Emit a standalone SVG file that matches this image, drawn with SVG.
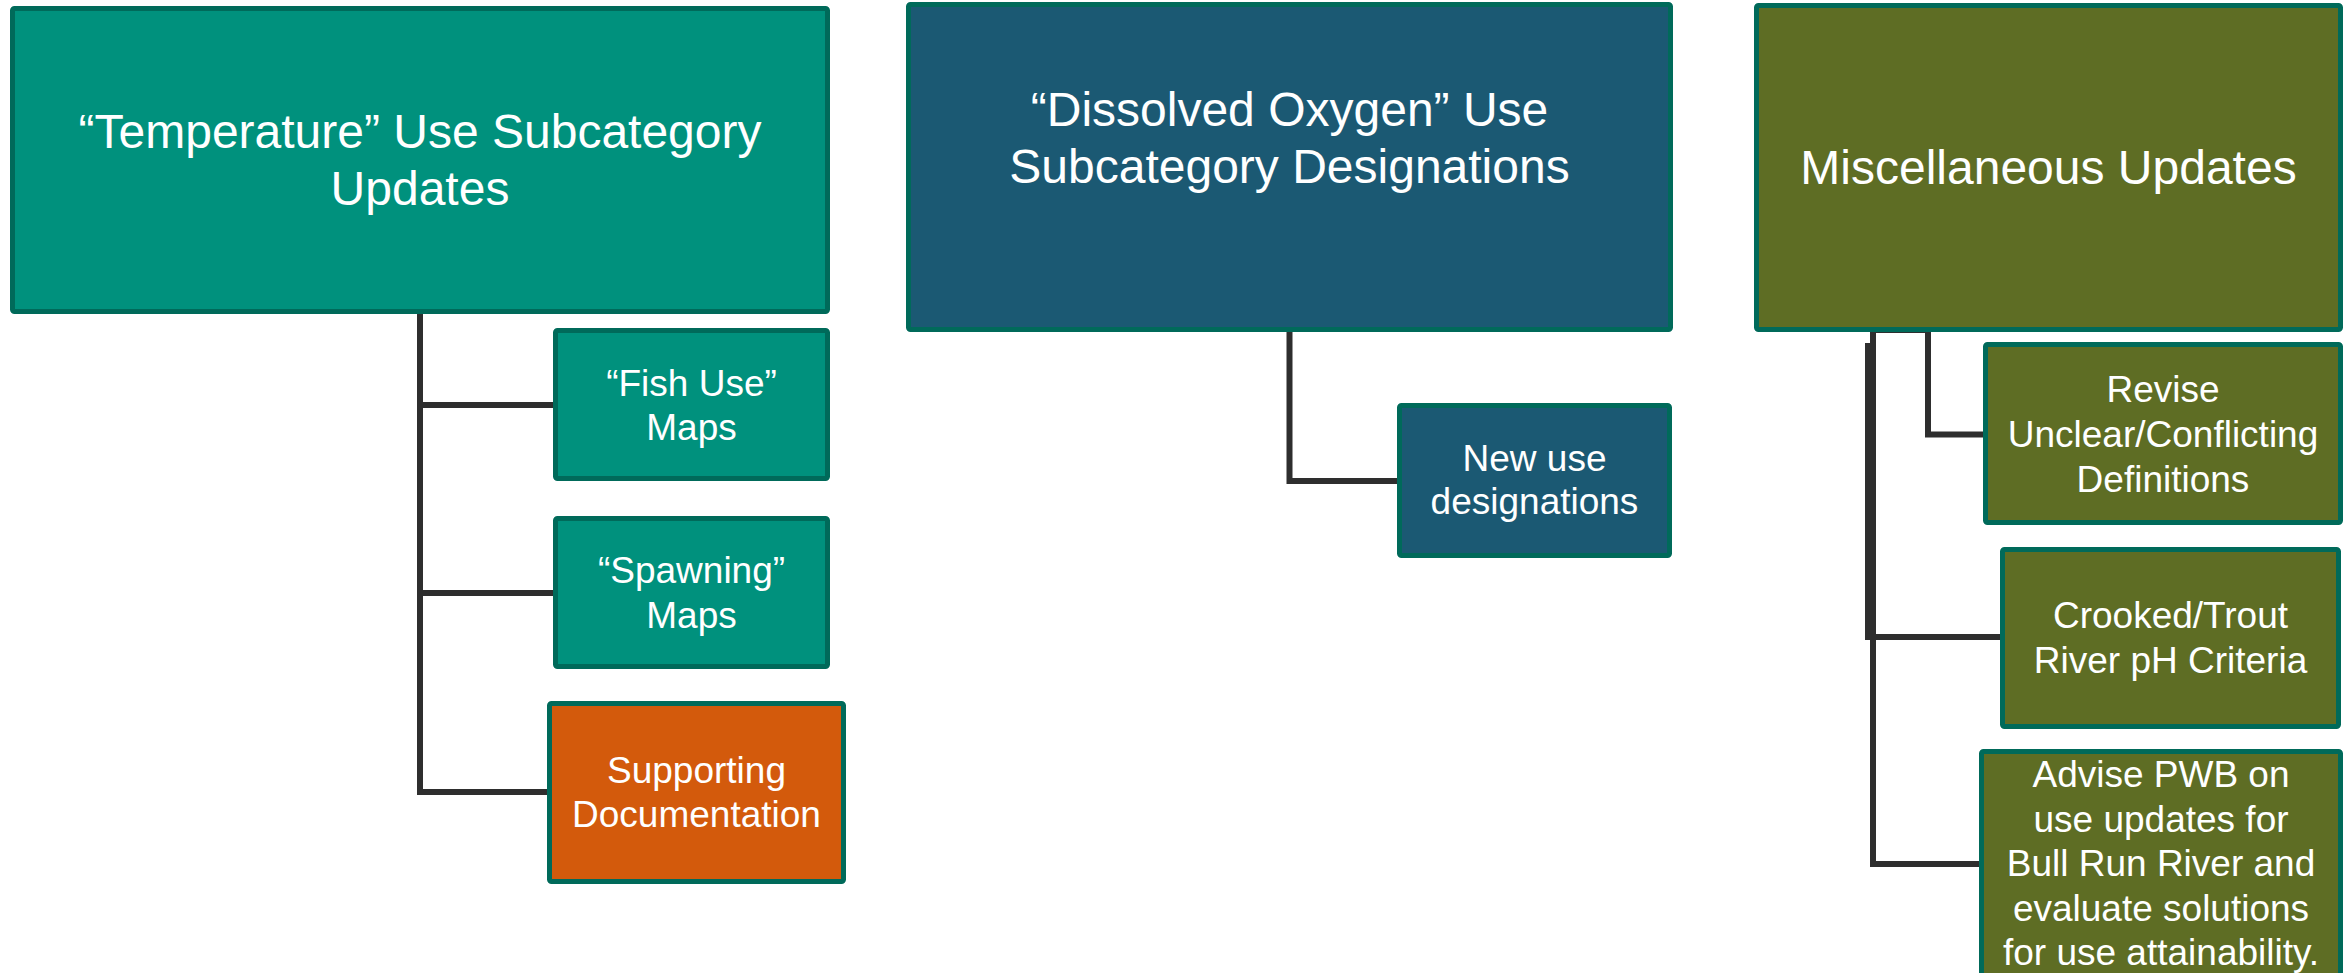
<svg xmlns="http://www.w3.org/2000/svg" width="2351" height="973" viewBox="0 0 2351 973">
<style>
.box{stroke:#006A5A;stroke-width:5}
.teal{fill:#00917D}
.blue{fill:#1B5973}
.olive{fill:#5E6D24}
.orange{fill:#D35A0C}
.t{fill:#FFFFFF;font-family:"Liberation Sans",Arial,sans-serif;text-anchor:middle}
.big{font-size:48px}
.sm{font-size:37px}
.con{fill:none;stroke:#2E2E2E;stroke-width:6;stroke-linejoin:miter}
</style>
<rect width="2351" height="973" fill="#FFFFFF"/>
<g id="connectors">
<path class="con" d="M420,313 V792 H550"/>
<path class="con" d="M420,405 H556"/>
<path class="con" d="M420,593 H556"/>
<path class="con" d="M1289.5,331 V481 H1400"/>
<path class="con" d="M1873,330 V864 H1982"/>
<path class="con" d="M1868,343 V637 H2003"/>
<path class="con" d="M1871,330 H1928 V434.5 H1986"/>
</g>
<g id="temperature">
<rect class="box teal" x="12.5" y="8.5" width="815" height="303" rx="2"/>
<text class="t big" x="420" y="148">“Temperature” Use Subcategory</text>
<text class="t big" x="420" y="205">Updates</text>
</g>
<g id="fish-use">
<rect class="box teal" x="555.5" y="330.5" width="272" height="148" rx="2"/>
<text class="t sm" x="691.5" y="396">“Fish Use”</text>
<text class="t sm" x="691.5" y="440">Maps</text>
</g>
<g id="spawning">
<rect class="box teal" x="555.5" y="518.5" width="272" height="148" rx="2"/>
<text class="t sm" x="691.5" y="583">“Spawning”</text>
<text class="t sm" x="691.5" y="628">Maps</text>
</g>
<g id="supporting">
<rect class="box orange" x="549.5" y="703.5" width="294" height="178" rx="2"/>
<text class="t sm" x="696.5" y="783">Supporting</text>
<text class="t sm" x="696.5" y="827">Documentation</text>
</g>
<g id="dissolved-oxygen">
<rect class="box blue" x="908.5" y="4.5" width="762" height="325" rx="2"/>
<text class="t big" x="1289.5" y="126">“Dissolved Oxygen” Use</text>
<text class="t big" x="1289.5" y="183">Subcategory Designations</text>
</g>
<g id="new-use">
<rect class="box blue" x="1399.5" y="405.5" width="270" height="150" rx="2"/>
<text class="t sm" x="1534.5" y="471">New use</text>
<text class="t sm" x="1534.5" y="514">designations</text>
</g>
<g id="miscellaneous">
<rect class="box olive" x="1756.5" y="5.5" width="584" height="324" rx="2"/>
<text class="t big" x="2048.5" y="184">Miscellaneous Updates</text>
</g>
<g id="revise">
<rect class="box olive" x="1985.5" y="344.5" width="355" height="178" rx="2"/>
<text class="t sm" x="2163" y="402">Revise</text>
<text class="t sm" x="2163" y="447">Unclear/Conflicting</text>
<text class="t sm" x="2163" y="492">Definitions</text>
</g>
<g id="crooked">
<rect class="box olive" x="2002.5" y="549.5" width="336" height="177" rx="2"/>
<text class="t sm" x="2170.5" y="628">Crooked/Trout</text>
<text class="t sm" x="2170.5" y="673">River pH Criteria</text>
</g>
<g id="advise">
<rect class="box olive" x="1981.5" y="751.5" width="359" height="240" rx="2"/>
<text class="t sm" x="2161" y="787">Advise PWB on</text>
<text class="t sm" x="2161" y="831.5">use updates for</text>
<text class="t sm" x="2161" y="876">Bull Run River and</text>
<text class="t sm" x="2161" y="920.5">evaluate solutions</text>
<text class="t sm" x="2161" y="965">for use attainability.</text>
</g>
</svg>
